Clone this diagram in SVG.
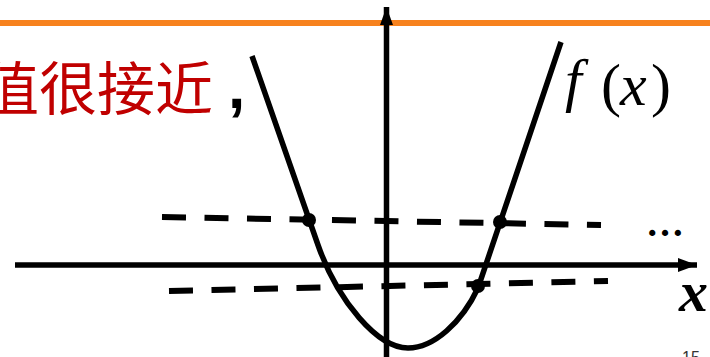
<svg xmlns="http://www.w3.org/2000/svg" width="710" height="357" viewBox="0 0 710 357">
<style>
.ax{stroke:#000;stroke-width:5.5;fill:none}
.cv{stroke:#000;stroke-width:5.5;fill:none;stroke-linejoin:round}
.dash{stroke:#000;stroke-width:6;fill:none;stroke-dasharray:24 18.5}
.pt{fill:#000}
.math{font-family:"Liberation Serif","Times New Roman",serif;font-style:italic;fill:#000}
.up{font-family:"Liberation Serif","Times New Roman",serif;fill:#000}
</style>
<defs>
<marker id="ah" markerUnits="userSpaceOnUse" markerWidth="20" markerHeight="16" refX="19" refY="7" orient="auto">
<path d="M0,0 L19,7 L0,14 Z" fill="#000"/>
</marker>
<marker id="ahy" markerUnits="userSpaceOnUse" markerWidth="20" markerHeight="16" refX="18" refY="6.5" orient="auto">
<path d="M0,0 L18,6.5 L0,13 Z" fill="#000"/>
</marker>
</defs>
<rect width="710" height="357" fill="#fff"/>
<g id="title-bar"><rect x="0" y="20" width="710" height="6" fill="#F7821E"/></g>
<g id="caption">
<text x="-19" y="110" font-family="'Noto Sans CJK SC',sans-serif" font-size="58" fill="#C00000">值很接近</text>
<text x="228" y="108" font-family="'Liberation Sans',Arial,sans-serif" font-size="62" font-weight="bold" fill="#000">,</text>
</g>
<g id="connectors">
<line id="x-axis" class="ax" x1="15" y1="265" x2="697" y2="265" marker-end="url(#ah)"/>
<line id="y-axis" class="ax" x1="386.5" y1="357" x2="386.5" y2="7" marker-end="url(#ahy)"/>
<path id="curve" class="cv" d="M252,56 L318,245 C338,302 378,348 408,348 C434,348 462,322 478,288 L561,42"/>
<line id="dash-upper" class="dash" x1="162" y1="217" x2="601" y2="225"/>
<line id="dash-lower" class="dash" x1="169" y1="291" x2="608" y2="281"/>
</g>
<g id="points">
<circle class="pt" cx="309" cy="220" r="7"/>
<circle class="pt" cx="500" cy="222" r="7"/>
<circle class="pt" cx="478" cy="286" r="7"/>
</g>
<g id="label-fx">
<text class="math" x="565" y="100" font-size="60">f</text>
<text class="up" x="601" y="105" font-size="60">(</text>
<text class="math" x="620" y="105" font-size="60">x</text>
<text class="up" x="651" y="105" font-size="60">)</text>
</g>
<g id="label-dots"><text x="646" y="236" font-family="'Liberation Serif',serif" font-size="38" font-weight="bold">…</text></g>
<g id="label-x"><text x="679" y="311" font-family="'Liberation Serif',serif" font-size="58" font-style="italic" font-weight="bold">x</text></g>
<g id="page-num"><text x="682" y="363" font-family="'Liberation Sans',Arial,sans-serif" font-size="16" fill="#333">15</text></g>
</svg>
